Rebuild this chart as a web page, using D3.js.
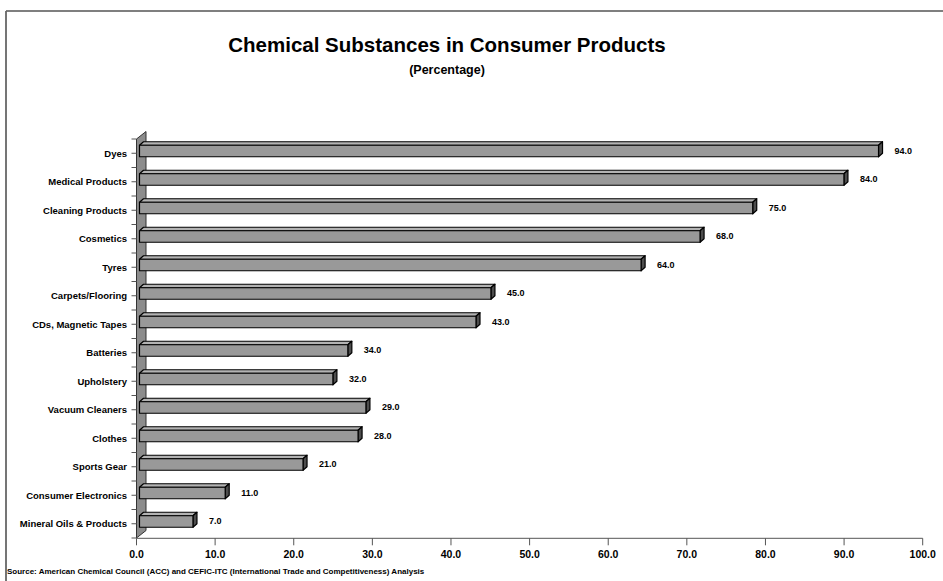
<!DOCTYPE html>
<html><head><meta charset="utf-8">
<script src="https://cdn.jsdelivr.net/npm/d3@7"></script>
<style>
html,body{margin:0;padding:0;background:#fff;}
svg{display:block;font-family:"Liberation Sans",Arial,Helvetica,sans-serif;}
</style></head>
<body>
<svg id="chart" width="943" height="581"></svg>
<script>
// ---- data ----
const categories = ["Dyes","Medical Products","Cleaning Products","Cosmetics","Tyres","Carpets/Flooring","CDs, Magnetic Tapes","Batteries","Upholstery","Vacuum Cleaners","Clothes","Sports Gear","Consumer Electronics","Mineral Oils & Products"];
// bar lengths as drawn in the picture
const barValues = [94.0, 89.6, 78.0, 71.3, 63.8, 44.7, 42.8, 26.5, 24.6, 28.8, 27.8, 20.8, 10.9, 6.8];
// data labels as printed
const labelValues = ["94.0","84.0","75.0","68.0","64.0","45.0","43.0","34.0","32.0","29.0","28.0","21.0","11.0","7.0"];
const xTicks = [0,10,20,30,40,50,60,70,80,90,100];
const title = "Chemical Substances in Consumer Products";
const subtitle = "(Percentage)";
const source = "Source: American Chemical Council (ACC) and CEFIC-ITC (International Trade and Competitiveness) Analysis";

const svg = d3.select("#chart");
const W = 943, H = 581;

// frame
svg.append("line").attr("x1",6).attr("y1",11).attr("x2",W).attr("y2",11).attr("stroke","#555").attr("stroke-width",1.5);
svg.append("line").attr("x1",6).attr("y1",11).attr("x2",6).attr("y2",H).attr("stroke","#666").attr("stroke-width",1.8);

// titles
svg.append("text").attr("x",447).attr("y",52).attr("text-anchor","middle")
  .attr("font-size",20.5).attr("font-weight","bold").attr("fill","#000").text(title);
svg.append("text").attr("x",447).attr("y",74).attr("text-anchor","middle")
  .attr("font-size",12.5).attr("font-weight","bold").attr("fill","#000").text(subtitle);

// scales
const x = d3.scaleLinear().domain([0,100]).range([136.5, 922.7]);
const y = d3.scaleBand().domain(categories).range([139, 538]).paddingInner(0).paddingOuter(0);
const x0 = x(0);
const yTop = y.range()[0], yBot = y.range()[1];

// back wall (3D)
const wd = 9.5, wh = 7.5;
svg.append("path")
  .attr("d", `M${x0},${yTop} L${x0+wd},${yTop-wh} L${x0+wd},${yBot-wh} L${x0},${yBot} Z`)
  .attr("fill","#8c8c8c").attr("stroke","#333").attr("stroke-width",1);

// category ticks (boundaries + centers)
const g = svg.append("g");
const bounds = categories.map(c => y(c)).concat([yBot]);
g.selectAll("line.b").data(bounds).join("line")
  .attr("x1",x0-5).attr("x2",x0).attr("y1",d=>d).attr("y2",d=>d)
  .attr("stroke","#555").attr("stroke-width",1);
g.selectAll("line.c").data(categories).join("line")
  .attr("x1",x0-5).attr("x2",x0).attr("y1",d=>y(d)+y.bandwidth()/2).attr("y2",d=>y(d)+y.bandwidth()/2)
  .attr("stroke","#555").attr("stroke-width",1);
g.selectAll("text.cat").data(categories).join("text")
  .attr("x",x0-9.5).attr("y",d=>y(d)+y.bandwidth()/2+3.3)
  .attr("text-anchor","end").attr("font-size",9.5).attr("font-weight","bold").attr("fill","#000")
  .text(d=>d);

// x axis
const ax = svg.append("g").attr("transform",`translate(0,538.3)`);
ax.append("line").attr("x1",x0).attr("x2",x(100)).attr("y1",0).attr("y2",0).attr("stroke","#555").attr("stroke-width",1);
ax.selectAll("line.t").data(xTicks).join("line")
  .attr("x1",d=>x(d)).attr("x2",d=>x(d)).attr("y1",0).attr("y2",7).attr("stroke","#555").attr("stroke-width",1);
ax.selectAll("text").data(xTicks).join("text")
  .attr("x",d=>x(d)).attr("y",19.3).attr("text-anchor","middle")
  .attr("font-size",10.5).attr("font-weight","bold").attr("fill","#000")
  .text(d=>d3.format(".1f")(d));

// bars
const dx = 4, dy = 3.5, shift = 3;
const bars = svg.append("g");
categories.forEach((c,i)=>{
  const cy = y(c)+y.bandwidth()/2;
  const xl = x(0)+shift, xr = x(barValues[i])+shift;
  const yt = cy-8, yb = cy+3.5;
  const gg = bars.append("g").attr("stroke","#000").attr("stroke-width",1.2).attr("stroke-linejoin","round");
  gg.append("path").attr("d",`M${xl},${yt} L${xl+dx},${yt-dy} L${xr+dx},${yt-dy} L${xr},${yt} Z`).attr("fill","#b3b3b3");
  gg.append("path").attr("d",`M${xr},${yt} L${xr+dx},${yt-dy} L${xr+dx},${yb-dy} L${xr},${yb} Z`).attr("fill","#4d4d4d");
  gg.append("rect").attr("x",xl).attr("y",yt).attr("width",xr-xl).attr("height",yb-yt).attr("fill","#999");
  bars.append("text").attr("x",xr+16).attr("y",cy+0.3)
    .attr("font-size",9).attr("font-weight","bold").attr("fill","#000").text(labelValues[i]);
});

// source
svg.append("text").attr("x",7).attr("y",574).attr("font-size",8).attr("font-weight","bold").attr("fill","#000").text(source);
</script>
</body></html>
